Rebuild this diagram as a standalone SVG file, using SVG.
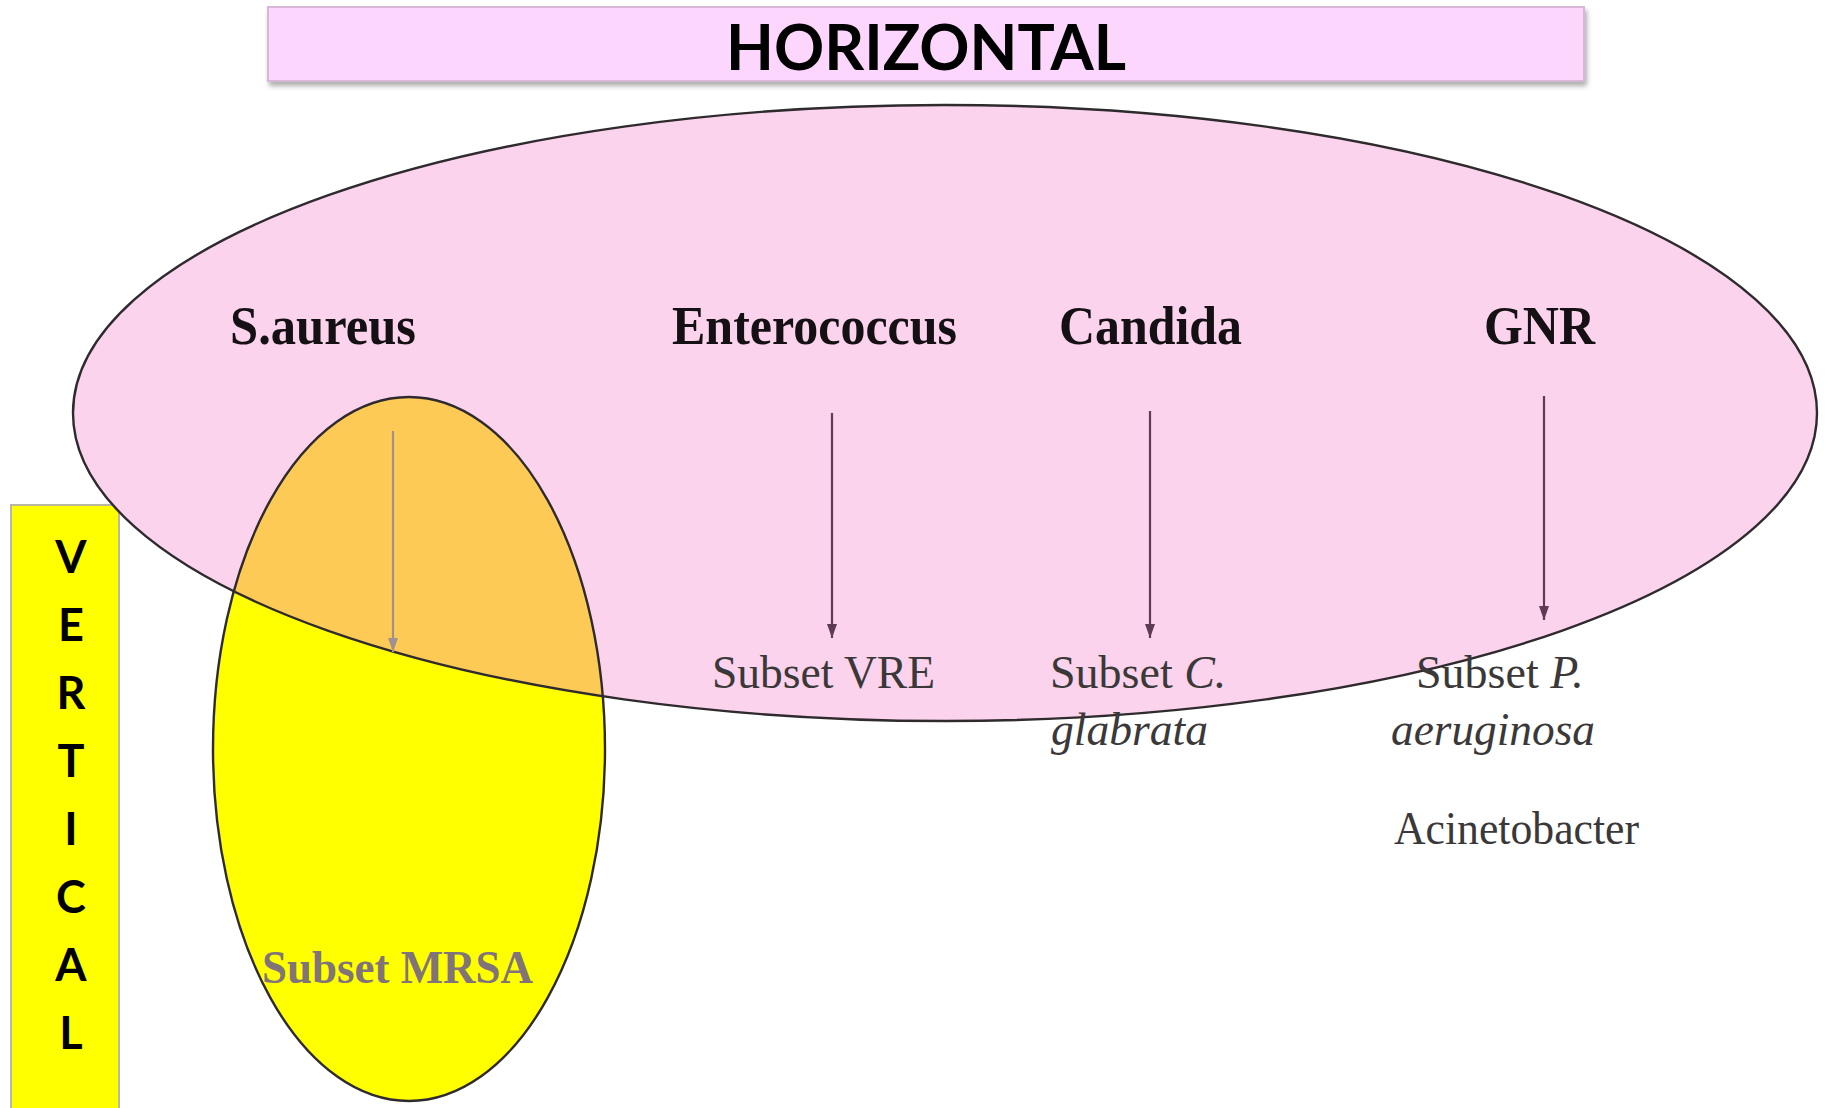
<svg xmlns="http://www.w3.org/2000/svg" width="1825" height="1108" viewBox="0 0 1825 1108">
<style>
.head{font-family:"Liberation Serif","Times New Roman",serif;font-weight:bold;font-size:55px;fill:#141014}
.sub{font-family:"Liberation Serif","Times New Roman",serif;font-size:46px;fill:#3a3838}
.it{font-style:italic}
.vert{font-family:Lato,"Liberation Sans",sans-serif;font-weight:bold;font-size:45px;fill:#000;text-anchor:middle}
.arrow{stroke:#5e3a55;stroke-width:2.2;fill:none}
.arrow-grey{stroke:#a09090;stroke-width:2.2;fill:none}
.outline{fill:none;stroke:#2e2a2e;stroke-width:2.4}
</style>
<defs>
<marker id="ah" viewBox="0 0 14 10" refX="14" refY="5" markerWidth="14" markerHeight="10" markerUnits="userSpaceOnUse" orient="auto">
<path d="M0,0 L14,5 L0,10 Z" fill="#5e3a55"/>
</marker>
<marker id="ahg" viewBox="0 0 14 10" refX="14" refY="5" markerWidth="14" markerHeight="10" markerUnits="userSpaceOnUse" orient="auto">
<path d="M0,0 L14,5 L0,10 Z" fill="#a09090"/>
</marker>
<clipPath id="yclip"><ellipse cx="409" cy="749" rx="196" ry="352"/></clipPath>
<filter id="sh" x="-5%" y="-30%" width="110%" height="170%">
<feDropShadow dx="2" dy="4" stdDeviation="2.5" flood-color="#777" flood-opacity="0.6"/>
</filter>
</defs>

<g id="banner">
<rect x="268" y="7" width="1316" height="74" fill="#fdd6fd" stroke="#d8b6d8" stroke-width="2" filter="url(#sh)"/>
<text x="926" y="70" font-family="Lato,'Liberation Sans',sans-serif" font-weight="bold" font-size="64" text-anchor="middle" textLength="400" lengthAdjust="spacingAndGlyphs" fill="#000">HORIZONTAL</text>
</g>

<g id="vertical-label">
<rect x="11" y="505" width="108" height="606" fill="#ffff00" stroke="#b8b8a0" stroke-width="2"/>
<text class="vert" x="71" y="573">V</text>
<text class="vert" x="71" y="641">E</text>
<text class="vert" x="71" y="709">R</text>
<text class="vert" x="71" y="777">T</text>
<text class="vert" x="71" y="845">I</text>
<text class="vert" x="71" y="913">C</text>
<text class="vert" x="71" y="981">A</text>
<text class="vert" x="71" y="1049">L</text>
</g>

<g id="set-horizontal">
<ellipse cx="945" cy="413" rx="872" ry="308" fill="#fcd3ec"/>
</g>
<g id="set-mrsa">
<ellipse cx="409" cy="749" rx="196" ry="352" fill="#ffff00"/>
<ellipse cx="945" cy="413" rx="872" ry="308" fill="#fdcb55" clip-path="url(#yclip)"/>
<ellipse class="outline" cx="409" cy="749" rx="196" ry="352"/>
</g>
<g id="set-horizontal-outline">
<ellipse class="outline" cx="945" cy="413" rx="872" ry="308"/>
</g>

<g id="connectors">
<line class="arrow-grey" x1="393" y1="431" x2="393" y2="652" marker-end="url(#ahg)"/>
<line class="arrow" x1="832" y1="413" x2="832" y2="638" marker-end="url(#ah)"/>
<line class="arrow" x1="1150" y1="411" x2="1150" y2="638" marker-end="url(#ah)"/>
<line class="arrow" x1="1544" y1="396" x2="1544" y2="620" marker-end="url(#ah)"/>
</g>

<g id="node-saureus"><text class="head" x="230" y="344" textLength="186" lengthAdjust="spacingAndGlyphs">S.aureus</text></g>
<g id="node-enterococcus"><text class="head" x="672" y="344" textLength="285" lengthAdjust="spacingAndGlyphs">Enterococcus</text></g>
<g id="node-candida"><text class="head" x="1059" y="344" textLength="183" lengthAdjust="spacingAndGlyphs">Candida</text></g>
<g id="node-gnr"><text class="head" x="1484" y="344" textLength="111" lengthAdjust="spacingAndGlyphs">GNR</text></g>

<g id="node-mrsa"><text x="262" y="983" font-family="'Liberation Serif','Times New Roman',serif" font-weight="bold" font-size="46" fill="#807478" textLength="271" lengthAdjust="spacingAndGlyphs">Subset MRSA</text></g>
<g id="node-vre"><text class="sub" x="712" y="688" textLength="223" lengthAdjust="spacingAndGlyphs">Subset VRE</text></g>
<g id="node-glabrata">
<text class="sub" x="1050" y="688">Subset <tspan class="it">C.</tspan></text>
<text class="sub it" x="1051" y="745" textLength="157" lengthAdjust="spacingAndGlyphs">glabrata</text>
</g>
<g id="node-aeruginosa">
<text class="sub" x="1416" y="688">Subset <tspan class="it">P.</tspan></text>
<text class="sub it" x="1391" y="745" textLength="204" lengthAdjust="spacingAndGlyphs">aeruginosa</text>
</g>
<g id="node-acinetobacter"><text class="sub" x="1394" y="844" textLength="245" lengthAdjust="spacingAndGlyphs">Acinetobacter</text></g>
</svg>
